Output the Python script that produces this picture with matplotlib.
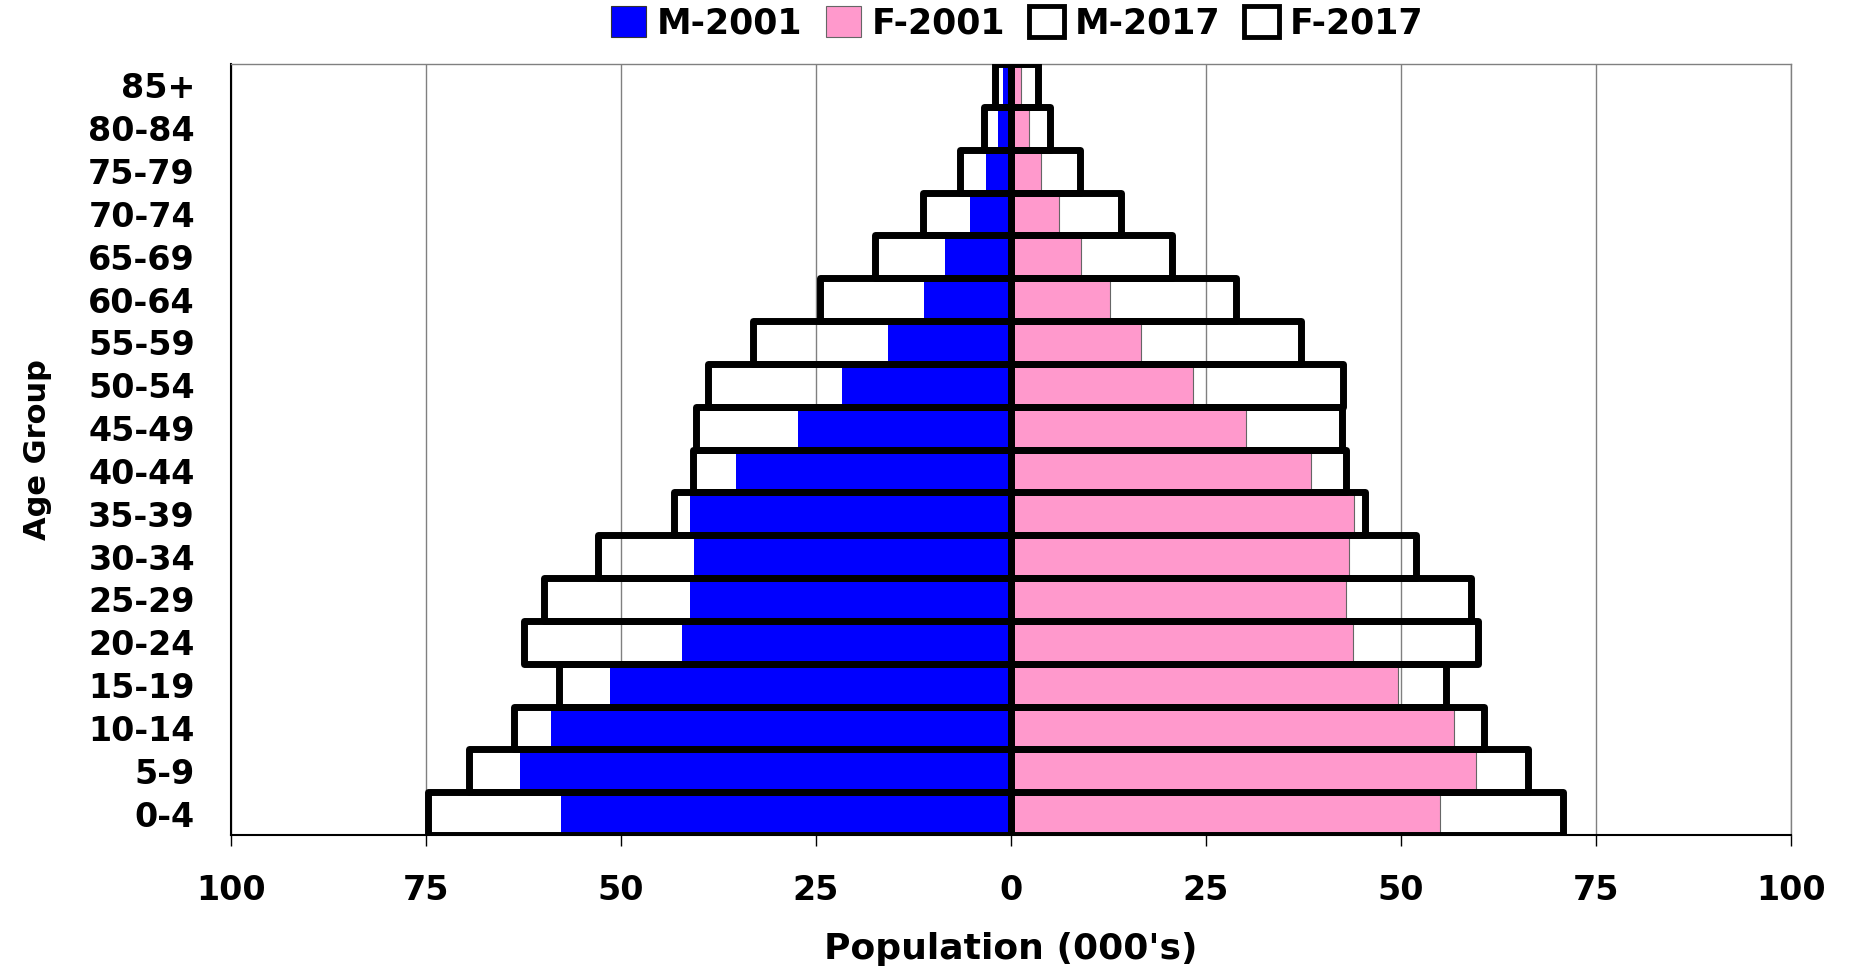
import matplotlib.pyplot as plt
from matplotlib.patches import Patch

age_groups = ['0-4', '5-9', '10-14', '15-19', '20-24', '25-29', '30-34', '35-39',
              '40-44', '45-49', '50-54', '55-59', '60-64', '65-69', '70-74',
              '75-79', '80-84', '85+']

# population in thousands
m2001 = [57.7, 62.9, 59.0, 51.4, 42.2, 41.2, 40.7, 41.2, 35.3, 27.3, 21.7, 15.8,
         11.1, 8.5, 5.3, 3.2, 1.7, 1.0]
f2001 = [55.0, 59.6, 56.8, 49.6, 43.8, 43.0, 43.3, 44.0, 38.5, 30.1, 23.3, 16.6,
         12.7, 9.0, 6.2, 3.9, 2.3, 1.3]
m2017 = [74.8, 69.5, 63.7, 57.9, 62.5, 59.9, 53.0, 43.2, 40.8, 40.4, 38.8, 33.1,
         24.5, 17.4, 11.3, 6.5, 3.5, 2.1]
f2017 = [70.8, 66.3, 60.6, 55.8, 59.9, 59.0, 51.9, 45.4, 42.9, 42.4, 42.6, 37.2,
         28.9, 20.6, 14.1, 8.9, 5.0, 3.5]

xticks = [-100, -75, -50, -25, 0, 25, 50, 75, 100]

plt.rcParams['font.family'] = ['DejaVu Sans']
plt.rcParams['font.weight'] = 'bold'

fig = plt.figure(figsize=(18.56, 9.66), dpi=100)
ax = fig.add_axes([0.1245, 0.1356, 0.8405, 0.7981])

y = range(len(age_groups))
blue = '#0000FF'
pink = '#FF99CC'

# 2001 bars filled, 2017 bars as outlines on top
ax.barh(y, [-v for v in m2001], height=1.0, color=blue, edgecolor='none', zorder=2)
ax.barh(y, f2001, height=1.0, color=pink, edgecolor='#666666', linewidth=0.8, zorder=2)
ax.barh(y, [-v for v in m2017], height=1.0, fill=False, edgecolor='black',
        linewidth=5, joinstyle='round', zorder=3)
ax.barh(y, f2017, height=1.0, fill=False, edgecolor='black',
        linewidth=5, joinstyle='round', zorder=3)

ax.set_xlim(-100, 100)
ax.set_ylim(-0.5, len(age_groups) - 0.5)
ax.set_xticks(xticks)
ax.set_xticklabels([str(abs(t)) for t in xticks], fontsize=24, fontweight='bold')
ax.set_yticks(list(y))
ax.set_yticklabels(age_groups, fontsize=24, fontweight='bold')
ax.tick_params(axis='x', length=8, width=1, direction='out', pad=20, colors='black')
ax.tick_params(axis='y', length=0, pad=26)

ax.xaxis.grid(True, color='#808080', linewidth=1)
ax.set_axisbelow(True)
for side in ['top', 'right']:
    ax.spines[side].set_color('#808080')
    ax.spines[side].set_linewidth(1)
for side in ['left', 'bottom']:
    ax.spines[side].set_color('black')
    ax.spines[side].set_linewidth(1.5)

ax.set_xlabel("Population (000's)", fontsize=26, fontweight='bold', labelpad=18)
ax.set_ylabel('Age Group', fontsize=22, fontweight='bold', labelpad=26)

handles = [
    Patch(facecolor=blue, edgecolor='#333333', linewidth=0.8),
    Patch(facecolor=pink, edgecolor='#666666', linewidth=0.8),
    Patch(facecolor='white', edgecolor='black', linewidth=3.5),
    Patch(facecolor='white', edgecolor='black', linewidth=3.5),
]
fig.legend(handles, ['M-2001', 'F-2001', 'M-2017', 'F-2017'], loc='center',
           bbox_to_anchor=(0.548, 0.976), ncol=4, frameon=False,
           prop={'size': 25, 'weight': 'bold'}, handlelength=1.0, handleheight=1.0,
           handletextpad=0.3, columnspacing=0.7)

fig.savefig('out.png', dpi=100)
